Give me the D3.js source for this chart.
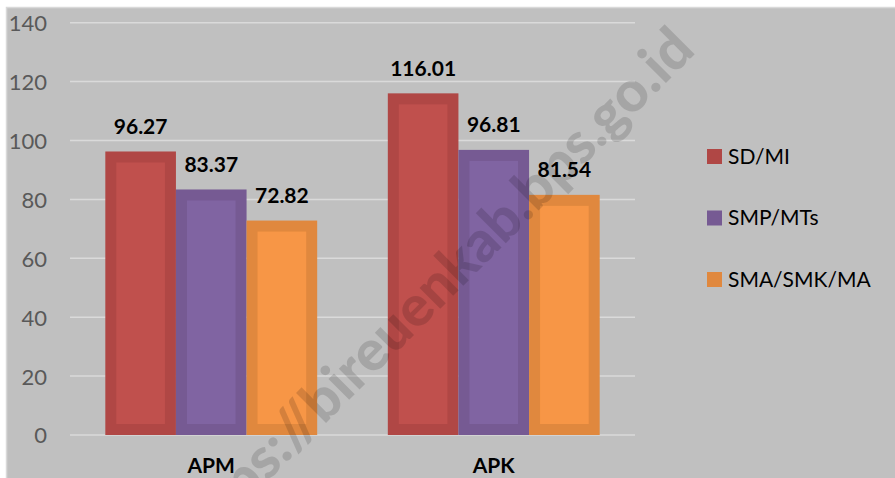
<!DOCTYPE html>
<html>
<head>
<meta charset="utf-8">
<script src="https://cdn.jsdelivr.net/npm/d3@7"></script>
<style>
  html, body { margin: 0; padding: 0; background: #ffffff; }
  svg { display: block; }
</style>
</head>
<body>
<script>
const categories = ["APM", "APK"];
const seriesNames = ["SD/MI", "SMP/MTs", "SMA/SMK/MA"];
const sdmi = [96.27, 116.01];
const smpmts = [83.37, 96.81];
const smasmkma = [72.82, 81.54];
const yTicks = [0, 20, 40, 60, 80, 100, 120, 140];
const watermark = "https://bireuenkab.bps.go.id";

const seriesValues = [sdmi, smpmts, smasmkma];
const outerColors = ["#b04745", "#765a93", "#e0883e"];
const innerColors = ["#c0504d", "#8064a2", "#f79646"];

const W = 895, H = 478;
const svg = d3.select("body").append("svg").attr("width", W).attr("height", H);
const FONT = "Lato, 'Open Sans', sans-serif";

svg.append("rect").attr("x", 6.5).attr("y", 7.5).attr("width", W).attr("height", H)
  .attr("fill", "#c0c0c0").attr("stroke", "#d9d9d9").attr("stroke-width", 1.5);

const y = d3.scaleLinear().domain([0, 140]).range([435, 22.7]);
const x0 = d3.scaleBand().domain(categories).range([70, 635]).paddingInner(0).paddingOuter(0);
const x1 = d3.scaleBand().domain(seriesNames).range([0, x0.bandwidth()]).paddingInner(0).paddingOuter(0.5);

// gridlines
svg.append("g").selectAll("line").data(yTicks).join("line")
  .attr("x1", 70).attr("x2", 635)
  .attr("y1", d => y(d)).attr("y2", d => y(d))
  .attr("stroke", "#dadada").attr("stroke-width", 1.5);

// y labels
const yAxis = d3.axisLeft(y).tickValues(yTicks).tickSize(0).tickPadding(0);
const ga = svg.append("g").attr("transform", "translate(47,0)").call(yAxis);
ga.select(".domain").remove();
ga.selectAll("text").attr("font-family", FONT).attr("font-size", 22).attr("fill", "#595959")
  .attr("dy", "0.36em");

// bars
const data = [];
categories.forEach((c, i) => seriesNames.forEach((s, j) => data.push({c, s, j, v: seriesValues[j][i]})));
const inset = 11;
const gb = svg.append("g");
gb.selectAll("rect.outer").data(data).join("rect").attr("class", "outer")
  .attr("x", d => x0(d.c) + x1(d.s)).attr("width", x1.bandwidth())
  .attr("y", d => y(d.v)).attr("height", d => y(0) - y(d.v))
  .attr("fill", d => outerColors[d.j]);
gb.selectAll("rect.inner").data(data).join("rect").attr("class", "inner")
  .attr("x", d => x0(d.c) + x1(d.s) + inset).attr("width", x1.bandwidth() - 2 * inset)
  .attr("y", d => y(d.v) + inset).attr("height", d => Math.max(0, y(0) - y(d.v) - 2 * inset))
  .attr("fill", d => innerColors[d.j]);

// data labels
svg.append("g").selectAll("text").data(data).join("text")
  .attr("x", d => x0(d.c) + x1(d.s) + x1.bandwidth() / 2)
  .attr("y", d => y(d.v) - 17.5)
  .attr("text-anchor", "middle")
  .attr("font-family", FONT).attr("font-weight", "bold").attr("font-size", 21).attr("fill", "#000")
  .text(d => d.v.toFixed(2));

// category labels
const xAxis = d3.axisBottom(x0).tickSize(0).tickPadding(0);
const gx = svg.append("g").attr("transform", "translate(0,473)").call(xAxis);
gx.select(".domain").remove();
gx.selectAll("text").attr("font-family", FONT).attr("font-weight", "bold").attr("font-size", 21)
  .attr("fill", "#000").attr("dy", 0);

// legend
const lg = svg.append("g").selectAll("g").data(seriesNames).join("g")
  .attr("transform", (d, i) => `translate(707,${149 + i * 61.5})`);
lg.append("rect").attr("width", 15).attr("height", 15).attr("fill", (d, i) => outerColors[i]);
lg.append("text").attr("x", 21).attr("y", 14.5)
  .attr("font-family", FONT).attr("font-size", 21).attr("fill", "#000").text(d => d);

// watermark
svg.append("text").attr("transform", "translate(697,52) rotate(-45)")
  .attr("text-anchor", "end")
  .attr("font-family", FONT).attr("font-weight", "900").attr("font-size", 57)
  .attr("fill", "#000").attr("fill-opacity", 0.14)
  .text(watermark);
</script>
</body>
</html>
